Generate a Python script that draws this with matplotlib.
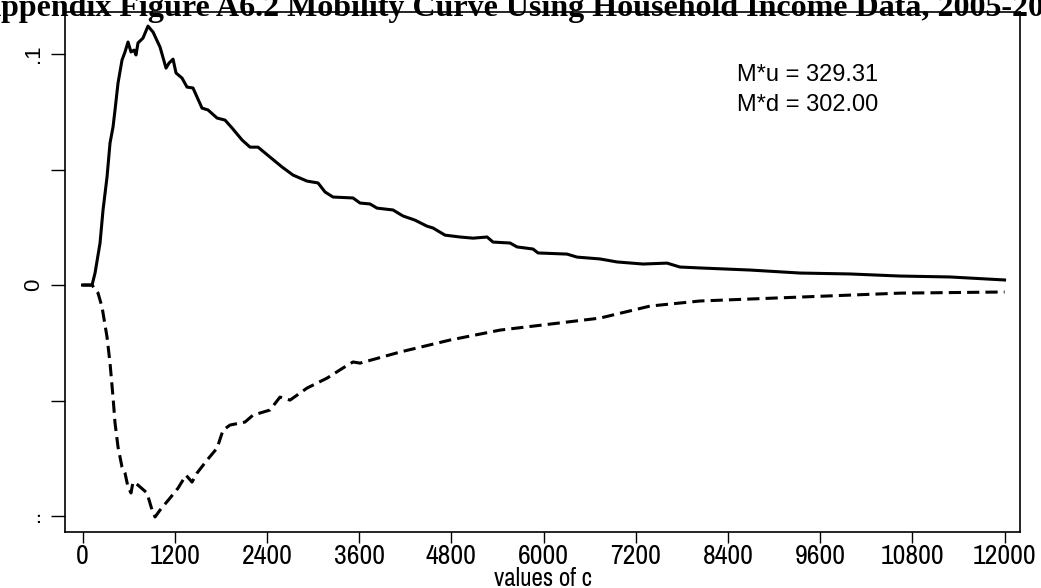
import matplotlib
matplotlib.use('Agg')
import matplotlib.pyplot as plt
from matplotlib import font_manager
import numpy as np

# upper mobility curve (solid)
c_up = [0, 124, 163, 228, 267, 319, 358, 397, 423, 462, 514, 553, 592, 631, 670, 696,
        722, 787, 852, 918, 1009, 1087, 1126, 1178, 1217, 1295, 1360, 1438, 1555, 1633,
        1751, 1855, 1946, 2076, 2180, 2284, 2440, 2597, 2740, 2922, 3065, 3156, 3260,
        3520, 3612, 3742, 3833, 4041, 4171, 4327, 4483, 4561, 4718, 4913, 5082, 5265,
        5343, 5564, 5655, 5863, 5928, 6306, 6436, 6735, 6956, 7295, 7607, 7776, 8036,
        8687, 9338, 9988, 10639, 11290, 12000]
m_up = [0, 0, 0.0052, 0.0182, 0.0325, 0.0468, 0.0615, 0.0684, 0.0758, 0.0874, 0.0974,
        0.1009, 0.1052, 0.1009, 0.1017, 0.0996, 0.1048, 0.1069, 0.1121, 0.1095, 0.1030,
        0.0939, 0.0961, 0.0978, 0.0918, 0.0896, 0.0857, 0.0853, 0.0766, 0.0758, 0.0723,
        0.0714, 0.0680, 0.0628, 0.0597, 0.0597, 0.0554, 0.0511, 0.0476, 0.0450, 0.0442,
        0.0403, 0.0381, 0.0377, 0.0355, 0.0351, 0.0333, 0.0325, 0.0299, 0.0281, 0.0255,
        0.0247, 0.0216, 0.0208, 0.0203, 0.0208, 0.0186, 0.0182, 0.0165, 0.0156, 0.0139,
        0.0134, 0.0121, 0.0113, 0.0100, 0.0091, 0.0095, 0.0078, 0.0074, 0.0065, 0.0052,
        0.0048, 0.0039, 0.0035, 0.0022]

# lower mobility curve (dashed)
c_dn = [0, 124, 202, 254, 319, 358, 397, 423, 462, 514, 553, 592, 631, 657, 722, 839,
        905, 944, 1009, 1139, 1243, 1347, 1425, 1490, 1620, 1751, 1829, 1920, 2115, 2219,
        2440, 2570, 2701, 2922, 3182, 3390, 3520, 3612, 4132, 4783, 5434, 6085, 6735,
        7386, 8036, 9338, 10639, 12000]
m_dn = [0, 0, -0.0035, -0.0095, -0.0225, -0.0338, -0.0485, -0.0597, -0.0701, -0.0788,
        -0.0814, -0.0874, -0.0900, -0.0853, -0.0866, -0.0900, -0.0974, -0.1004, -0.0974,
        -0.0922, -0.0879, -0.0823, -0.0853, -0.0814, -0.0758, -0.0706, -0.0628, -0.0606,
        -0.0593, -0.0563, -0.0541, -0.0485, -0.0498, -0.0446, -0.0403, -0.0359, -0.0333,
        -0.0338, -0.0290, -0.0238, -0.0195, -0.0169, -0.0143, -0.0091, -0.0069, -0.0052,
        -0.0035, -0.0030]

xticks = [0, 1200, 2400, 3600, 4800, 6000, 7200, 8400, 9600, 10800, 12000]
yticks = [-0.1, -0.05, 0, 0.05, 0.1]
ylabels = ['..', '', '0', '', '.1']

title = 'Appendix Figure A6.2 Mobility Curve Using Household Income Data, 2005-2010'
stats = ['M*u = 329.31', 'M*d = 302.00']

# narrow font for the x axis if one is installed
narrow = None
for f in font_manager.fontManager.ttflist:
    if 'Narrow' in f.name or 'Condensed' in f.name:
        narrow = f.name
        break
if narrow is None:
    narrow = 'Liberation Sans'
tick_font = font_manager.FontProperties(family=narrow, size=20)
label_font = font_manager.FontProperties(family=narrow, size=18)

fig = plt.figure(figsize=(10.41, 5.88), dpi=100)
ax = fig.add_axes([65/1041, 56/588, 955/1041, 520/588])

ax.plot(c_up, m_up, color='black', lw=2.2, solid_joinstyle='round')
ax.plot(c_dn, m_dn, color='black', lw=2.2, dashes=(4, 2))

ax.set_xlim(-228, 12201)
ax.set_ylim(-0.1069, 0.1182)

ax.set_xticks(xticks)
ax.set_xticklabels([str(x) for x in xticks], fontproperties=tick_font)
ax.set_yticks(yticks)
ax.set_yticklabels(ylabels, rotation=90, va='center', fontfamily='Liberation Sans', fontsize=16)
ax.tick_params(axis='x', length=8, width=1, pad=1)
ax.tick_params(axis='y', length=10, width=1, pad=5)
for s in ax.spines.values():
    s.set_linewidth(1.2)

ax.set_xlabel('values of c', fontproperties=label_font, va='center')
ax.xaxis.set_label_coords(0.5, (532 - 579) / 520)

for i, s in enumerate(stats):
    ax.text(8518, 0.0909 - i*0.013, s, fontfamily='Liberation Sans', fontsize=17,
            va='center', ha='left')

fig.text(-22/1041, 1 - 16/588, title, fontfamily='Liberation Serif', fontweight='bold',
         fontsize=23, ha='left', va='baseline')

fig.savefig('out.png', dpi=100)
